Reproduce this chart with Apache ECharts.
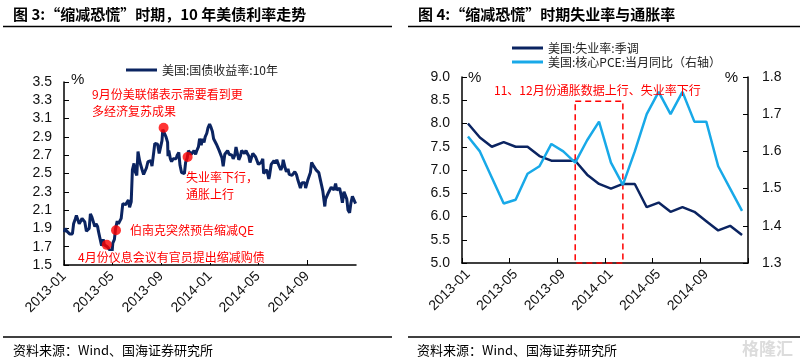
<!DOCTYPE html>
<html>
<head>
<meta charset="utf-8">
<script src="https://cdn.jsdelivr.net/npm/echarts@6/dist/echarts.min.js"></script>
<style>
html,body{margin:0;padding:0;background:#fff;}
#c{width:802px;height:364px;}
</style>
</head>
<body>
<div id="c"></div>
<script>
// ---------- Left chart: US 10Y Treasury yield ----------
const bondDates = [
'2013-01-02','2013-01-04','2013-01-08','2013-01-11','2013-01-15','2013-01-18','2013-01-22','2013-01-25','2013-01-29',
'2013-02-01','2013-02-05','2013-02-08','2013-02-12','2013-02-15','2013-02-19','2013-02-22','2013-02-26',
'2013-03-01','2013-03-05','2013-03-08','2013-03-12','2013-03-15','2013-03-19','2013-03-22','2013-03-26','2013-03-28',
'2013-04-02','2013-04-05','2013-04-09','2013-04-12','2013-04-16','2013-04-19','2013-04-23','2013-04-26',
'2013-05-01','2013-05-03','2013-05-07','2013-05-10','2013-05-14','2013-05-17','2013-05-21','2013-05-24','2013-05-28','2013-05-31',
'2013-06-04','2013-06-07','2013-06-11','2013-06-14','2013-06-18','2013-06-21','2013-06-25','2013-06-28',
'2013-07-02','2013-07-05','2013-07-09','2013-07-12','2013-07-16','2013-07-19','2013-07-23','2013-07-26','2013-07-30',
'2013-08-02','2013-08-06','2013-08-09','2013-08-13','2013-08-16','2013-08-20','2013-08-23','2013-08-27','2013-08-30',
'2013-09-03','2013-09-05','2013-09-10','2013-09-13','2013-09-17','2013-09-18','2013-09-20','2013-09-24','2013-09-27',
'2013-10-01','2013-10-04','2013-10-08','2013-10-11','2013-10-15','2013-10-18','2013-10-22','2013-10-25','2013-10-29',
'2013-11-01','2013-11-05','2013-11-08','2013-11-12','2013-11-15','2013-11-19','2013-11-22','2013-11-26','2013-11-29',
'2013-12-03','2013-12-06','2013-12-10','2013-12-13','2013-12-17','2013-12-20','2013-12-24','2013-12-27','2013-12-31',
'2014-01-03','2014-01-07','2014-01-10','2014-01-14','2014-01-17','2014-01-21','2014-01-24','2014-01-28','2014-01-31',
'2014-02-03','2014-02-07','2014-02-11','2014-02-14','2014-02-18','2014-02-21','2014-02-25','2014-02-28',
'2014-03-04','2014-03-07','2014-03-11','2014-03-14','2014-03-18','2014-03-21','2014-03-25','2014-03-28',
'2014-04-01','2014-04-04','2014-04-08','2014-04-11','2014-04-15','2014-04-18','2014-04-22','2014-04-25','2014-04-29',
'2014-05-02','2014-05-06','2014-05-09','2014-05-13','2014-05-15','2014-05-20','2014-05-23','2014-05-28','2014-05-30',
'2014-06-03','2014-06-06','2014-06-10','2014-06-13','2014-06-17','2014-06-20','2014-06-24','2014-06-27',
'2014-07-01','2014-07-03','2014-07-08','2014-07-11','2014-07-15','2014-07-18','2014-07-22','2014-07-25','2014-07-29',
'2014-08-01','2014-08-05','2014-08-08','2014-08-12','2014-08-15','2014-08-19','2014-08-22','2014-08-26','2014-08-28',
'2014-09-02','2014-09-05','2014-09-09','2014-09-12','2014-09-16','2014-09-19','2014-09-23','2014-09-26','2014-09-30',
'2014-10-03','2014-10-07','2014-10-10','2014-10-15','2014-10-17','2014-10-21','2014-10-24','2014-10-28','2014-10-31',
'2014-11-04','2014-11-07','2014-11-11','2014-11-14','2014-11-18','2014-11-21','2014-11-25','2014-11-28',
'2014-12-02','2014-12-05','2014-12-09','2014-12-12','2014-12-16','2014-12-19','2014-12-23','2014-12-26','2014-12-31'
];
const bondValues = [
1.86,1.90,1.87,1.87,1.84,1.84,1.84,1.95,2.00,
2.04,2.02,1.95,1.98,2.01,2.03,1.97,1.87,
1.86,1.90,2.06,2.02,2.00,1.92,1.95,1.92,1.87,
1.86,1.71,1.78,1.72,1.72,1.70,1.72,1.66,
1.63,1.74,1.78,1.90,1.98,1.95,1.93,2.01,2.17,2.16,
2.16,2.17,2.21,2.13,2.19,2.54,2.61,2.52,
2.48,2.74,2.64,2.59,2.53,2.49,2.50,2.56,2.63,
2.63,2.64,2.58,2.72,2.83,2.82,2.82,2.72,2.78,
2.86,2.98,2.96,2.90,2.84,2.69,2.75,2.66,2.63,
2.66,2.65,2.66,2.70,2.73,2.59,2.51,2.53,2.50,
2.62,2.67,2.75,2.77,2.71,2.71,2.75,2.71,2.75,
2.79,2.88,2.81,2.88,2.84,2.90,2.94,3.00,3.04,
3.01,2.96,2.88,2.87,2.82,2.83,2.75,2.77,2.67,
2.58,2.71,2.73,2.75,2.71,2.73,2.70,2.66,
2.70,2.79,2.77,2.65,2.69,2.75,2.75,2.72,
2.75,2.72,2.69,2.62,2.63,2.72,2.72,2.68,2.70,
2.60,2.61,2.62,2.66,2.50,2.52,2.54,2.44,2.48,
2.60,2.60,2.64,2.61,2.65,2.61,2.57,2.54,
2.58,2.65,2.56,2.52,2.55,2.49,2.47,2.48,2.48,
2.52,2.49,2.44,2.45,2.34,2.40,2.40,2.40,2.34,
2.42,2.46,2.51,2.62,2.59,2.59,2.54,2.54,2.51,
2.45,2.37,2.31,2.14,2.22,2.20,2.29,2.29,2.35,
2.36,2.32,2.39,2.32,2.34,2.34,2.26,2.18,
2.30,2.31,2.22,2.10,2.07,2.17,2.25,2.25,2.17
];
const eventDates = ['2013-04-18','2013-05-11','2013-09-07','2013-11-06'];
const eventValues = [1.72, 1.88, 3.00, 2.68];
const bondTickLabels = ['2013-01-01','2013-05-01','2013-09-01','2014-01-01','2014-05-01','2014-09-01'];
const bondAxisStart = '2013-01-01';
const bondAxisEnd = '2015-01-01';
const bondName = '美国:国债收益率:10年';

// ---------- Right chart: unemployment & core PCE ----------
const months = ['2013-01','2013-02','2013-03','2013-04','2013-05','2013-06','2013-07','2013-08','2013-09','2013-10','2013-11','2013-12',
                '2014-01','2014-02','2014-03','2014-04','2014-05','2014-06','2014-07','2014-08','2014-09','2014-10','2014-11','2014-12'];
const unemployment = [8.0,7.7,7.5,7.6,7.5,7.5,7.3,7.2,7.2,7.2,6.9,6.7,6.6,6.7,6.7,6.2,6.3,6.1,6.2,6.1,5.9,5.7,5.8,5.6];
const corePCE = [1.64,1.60,1.53,1.46,1.47,1.54,1.56,1.62,1.60,1.57,1.63,1.68,1.57,1.51,1.60,1.70,1.76,1.70,1.76,1.68,1.68,1.56,1.50,1.44];
const unempName = '美国:失业率:季调';
const pceName = '美国:核心PCE:当月同比（右轴）';

const NAVY = '#0b2461';
const SKY = '#18a9e8';
const RED = '#ff0000';
const CJK = '"Noto Sans CJK SC", "Noto Sans", sans-serif';
const LAT = '"Liberation Sans", Arial, sans-serif';

function ts(d) { return echarts.number.parseDate(d).getTime(); }
function fmtMonth(v) {
  const d = new Date(v);
  const m = d.getMonth() + 1;
  return d.getFullYear() + '-' + (m < 10 ? '0' + m : m);
}

const chart = echarts.init(document.getElementById('c'), null, {renderer: 'canvas'});

function txt(text, x, y, extra) {
  return {
    type: 'text', z: 100,
    style: Object.assign({text: text, x: x, y: y, fill: RED, font: '12px ' + CJK, textVerticalAlign: 'middle'}, extra || {})
  };
}
function rule(x1, y1, x2, y2) {
  return {type: 'line', z: 100, shape: {x1: x1, y1: y1, x2: x2, y2: y2}, style: {stroke: '#000', lineWidth: 1.5}};
}

const axisLine = {show: true, lineStyle: {color: '#000', width: 1.5}};
const axisLabelBase = {color: '#111', fontSize: 14, fontFamily: LAT};
const tickVals = bondTickLabels.map(ts);

const option = {
  animation: false,
  backgroundColor: '#fff',
  grid: [
    {left: 64, right: 446, top: 82, bottom: 99},
    {left: 462, right: 54, top: 77, bottom: 101}
  ],
  legend: [
    {data: [bondName], left: 121, top: 59, icon: 'rect', itemWidth: 31, itemHeight: 3, itemGap: 2,
     textStyle: {fontSize: 12, fontFamily: CJK, color: '#222'}},
    {data: [unempName, pceName], left: 507, top: 36, orient: 'vertical', icon: 'rect', itemWidth: 31, itemHeight: 3, itemGap: 0,
     textStyle: {fontSize: 12, fontFamily: CJK, color: '#222', lineHeight: 14}}
  ],
  xAxis: [
    {type: 'value', gridIndex: 0, min: ts(bondAxisStart), max: ts(bondAxisEnd), scale: true,
     axisLine: axisLine, splitLine: {show: false},
     axisTick: {show: true, inside: true, length: 5, customValues: tickVals, lineStyle: {color: '#000'}},
     axisLabel: Object.assign({}, axisLabelBase, {rotate: 45, customValues: tickVals, margin: 9, formatter: fmtMonth})},
    {type: 'category', gridIndex: 1, data: months, boundaryGap: true,
     axisLine: axisLine,
     axisTick: {show: true, inside: true, length: 5, interval: 3, lineStyle: {color: '#000'}},
     axisLabel: Object.assign({}, axisLabelBase, {rotate: 45, interval: 3, margin: 9})}
  ],
  yAxis: [
    {type: 'value', gridIndex: 0, min: 1.5, max: 3.5, interval: 0.2,
     name: '%', nameLocation: 'end', nameGap: 2,
     nameTextStyle: {fontSize: 15, fontFamily: LAT, color: '#111', align: 'left', verticalAlign: 'middle', padding: [0, 0, 0, 7]},
     axisLine: axisLine, splitLine: {show: false},
     axisTick: {show: true, inside: true, length: 5, lineStyle: {color: '#000'}},
     axisLabel: Object.assign({}, axisLabelBase, {margin: 12, formatter: function (v) { return v.toFixed(1); }})},
    {type: 'value', gridIndex: 1, min: 5, max: 9, interval: 0.5, position: 'left',
     name: '%', nameLocation: 'end', nameGap: -1,
     nameTextStyle: {fontSize: 15, fontFamily: LAT, color: '#111', align: 'left', verticalAlign: 'middle', padding: [0, 0, 0, 6]},
     axisLine: axisLine, splitLine: {show: false},
     axisTick: {show: true, inside: true, length: 5, lineStyle: {color: '#000'}},
     axisLabel: Object.assign({}, axisLabelBase, {margin: 12, formatter: function (v) { return v.toFixed(1); }})},
    {type: 'value', gridIndex: 1, min: 1.3, max: 1.8, interval: 0.1, position: 'right',
     name: '%', nameLocation: 'end', nameGap: -1,
     nameTextStyle: {fontSize: 15, fontFamily: LAT, color: '#111', align: 'right', verticalAlign: 'middle', padding: [0, 10, 0, 0]},
     axisLine: axisLine, splitLine: {show: false},
     axisTick: {show: true, inside: true, length: 5, lineStyle: {color: '#000'}},
     axisLabel: Object.assign({}, axisLabelBase, {margin: 14, formatter: function (v) { return v.toFixed(1); }})}
  ],
  series: [
    {name: bondName, type: 'line', xAxisIndex: 0, yAxisIndex: 0, showSymbol: false,
     lineStyle: {color: NAVY, width: 3}, itemStyle: {color: NAVY},
     data: bondDates.map(function (d, i) { return [ts(d), bondValues[i]]; })},
    {name: 'events', type: 'scatter', xAxisIndex: 0, yAxisIndex: 0, symbolSize: 10, z: 5,
     itemStyle: {color: RED},
     data: eventDates.map(function (d, i) { return [ts(d), eventValues[i]]; })},
    {name: unempName, type: 'line', xAxisIndex: 1, yAxisIndex: 1, showSymbol: false,
     lineStyle: {color: NAVY, width: 2.5}, itemStyle: {color: NAVY}, data: unemployment,
     markArea: {silent: true,
       itemStyle: {color: 'rgba(0,0,0,0)', borderColor: RED, borderWidth: 1.5, borderType: [6, 4]},
       data: [[{xAxis: '2013-10', yAxis: 8.48}, {xAxis: '2014-02', yAxis: 5}]]}},
    {name: pceName, type: 'line', xAxisIndex: 1, yAxisIndex: 2, showSymbol: false,
     lineStyle: {color: SKY, width: 2.5}, itemStyle: {color: SKY}, data: corePCE}
  ],
  graphic: [
    txt('图 3:“缩减恐慌”时期，10 年美债利率走势', 13, 14, {fill: '#000', font: 'bold 15px ' + CJK}),
    txt('图 4:“缩减恐慌”时期失业率与通胀率', 418, 14, {fill: '#000', font: 'bold 15px ' + CJK}),
    rule(3, 26.5, 392, 26.5),
    rule(408, 26.5, 800, 26.5),
    rule(3, 337, 392, 337),
    rule(408, 337, 800, 337),
    txt('资料来源：Wind、国海证券研究所', 13, 350, {fill: '#000', font: '13px ' + CJK}),
    txt('资料来源：Wind、国海证券研究所', 417, 350, {fill: '#000', font: '13px ' + CJK}),
    txt('格隆汇', 742, 349, {fill: '#dcdcdc', font: 'bold 17px ' + CJK}),
    txt('9月份美联储表示需要看到更', 92, 94),
    txt('多经济复苏成果', 92, 111),
    txt('伯南克突然预告缩减QE', 130, 230),
    txt('4月份仪息会议有官员提出缩减购债', 78, 257, {backgroundColor: '#fff'}),
    txt('失业率下行，', 186, 177),
    txt('通胀上行', 186, 194),
    txt('11、12月份通胀数据上行、失业率下行', 494, 90)
  ]
};
chart.setOption(option);
</script>
</body>
</html>
